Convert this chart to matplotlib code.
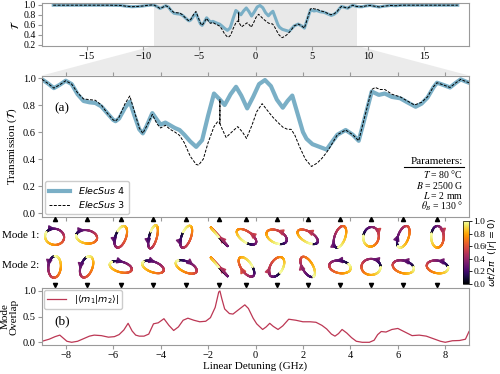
import numpy as np
import matplotlib.pyplot as plt
from matplotlib.collections import LineCollection
from matplotlib.patches import Polygon, FancyArrowPatch
from matplotlib.font_manager import FontProperties
from matplotlib.cm import ScalarMappable

plt.rcParams['font.family'] = ['Liberation Serif', 'DejaVu Serif']
plt.rcParams['mathtext.fontset'] = 'stix'
plt.rcParams['font.size'] = 8

# ---- transmission data (GHz, T) ----
outer_left_x = [-18, -17, -16, -15, -14, -13, -12, -11.5, -11, -10.5, -10, -9.5, -9.2]
outer_left_t = [0.99, 0.99, 0.99, 0.99, 0.99, 0.99, 0.985, 0.97, 0.96, 0.965, 0.975, 0.99, 0.995]
outer_right_x = [9.25, 9.5, 9.8, 10.2, 10.6, 11.0, 11.4, 12, 12.5, 13, 14, 15, 16, 17, 18]
outer_right_t = [0.96, 0.96, 0.975, 0.985, 0.97, 0.955, 0.97, 0.985, 0.98, 0.99, 0.99, 0.99, 0.99, 0.99, 0.99]

es4_x = [-9.0, -8.75, -8.5, -8.25, -8.0, -7.75, -7.5, -7.25, -7.0, -6.75, -6.5, -6.25, -6.0, -5.9,
         -5.75, -5.5, -5.3, -5.1, -4.9, -4.75, -4.6, -4.35, -4.15, -4.0, -3.8, -3.6, -3.4, -3.2,
         -3.0, -2.75, -2.5, -2.25, -2.0, -1.75, -1.5, -1.3, -1.05, -0.82, -0.6, -0.35, -0.1, 0.15,
         0.4, 0.65, 0.9, 1.15, 1.35, 1.55, 1.75, 2.0, 2.15, 2.4, 2.7, 3.0, 3.2, 3.45, 3.8, 4.1,
         4.35, 4.6, 4.9, 5.2, 5.45, 5.75, 6.1, 6.4, 6.75, 7.0, 7.25, 7.5, 7.65, 7.9, 8.2, 8.45,
         8.65, 8.85, 9.0]
es4_t = [0.99, 0.96, 0.925, 0.95, 0.98, 0.955, 0.88, 0.83, 0.82, 0.815, 0.79, 0.74, 0.69, 0.68,
         0.70, 0.78, 0.825, 0.72, 0.62, 0.59, 0.64, 0.74, 0.69, 0.655, 0.67, 0.65, 0.63, 0.615,
         0.58, 0.53, 0.49, 0.54, 0.72, 0.885, 0.84, 0.80, 0.88, 0.935, 0.87, 0.775, 0.86, 0.955,
         0.985, 0.94, 0.84, 0.78, 0.83, 0.87, 0.75, 0.60, 0.55, 0.51, 0.49, 0.47, 0.52, 0.58, 0.615, 0.58,
         0.535, 0.70, 0.90, 0.875, 0.885, 0.86, 0.85, 0.82, 0.787, 0.81, 0.855, 0.93, 0.965, 0.95, 0.93, 0.965,
         0.99, 0.975, 0.965]

es3_x = [-9.0, -8.75, -8.5, -8.25, -8.0, -7.75, -7.5, -7.25, -7.0, -6.75, -6.5, -6.25, -6.0, -5.9,
         -5.75, -5.5, -5.3, -5.1, -4.9, -4.75, -4.6, -4.35, -4.15, -4.0, -3.8, -3.6, -3.4, -3.2,
         -3.0, -2.75, -2.5, -2.4, -2.2, -2.0, -1.75, -1.6, -1.505, -1.5, -1.495, -1.4, -1.24, -1.0,
         -0.75, -0.55, -0.38, -0.15, 0.05, 0.28, 0.5, 0.73, 0.95, 1.16, 1.35, 1.5, 1.65, 1.86, 2.1,
         2.36, 2.6, 2.8, 3.0, 3.15, 3.45, 3.8, 4.1, 4.35, 4.6, 4.9, 5.05, 5.25, 5.45, 5.75, 6.1, 6.4,
         6.7, 7.0, 7.25, 7.5, 7.65, 7.9, 8.2, 8.45, 8.65, 8.85, 9.0]
es3_t = [0.99, 0.96, 0.925, 0.95, 0.98, 0.955, 0.89, 0.845, 0.84, 0.835, 0.80, 0.74, 0.69, 0.68,
         0.71, 0.81, 0.867, 0.75, 0.63, 0.59, 0.64, 0.73, 0.66, 0.63, 0.65, 0.62, 0.60, 0.575,
         0.52, 0.42, 0.36, 0.355, 0.40, 0.52, 0.64, 0.676, 0.665, 0.84, 0.66, 0.62, 0.56, 0.60,
         0.64, 0.60, 0.553, 0.65, 0.75, 0.81, 0.76, 0.71, 0.67, 0.635, 0.62, 0.62, 0.58, 0.49, 0.40,
         0.345, 0.37, 0.405, 0.45, 0.49, 0.58, 0.615, 0.58, 0.535, 0.71, 0.915, 0.93, 0.915, 0.915, 0.88, 0.86, 0.83,
         0.80, 0.82, 0.86, 0.935, 0.965, 0.95, 0.93, 0.965, 0.99, 0.975, 0.965]

# ---- mode overlap ----
ov_x = [-9.0, -8.7, -8.45, -8.25, -8.1, -7.95, -7.75, -7.5, -7.25, -7.0, -6.8, -6.5, -6.2, -5.95,
        -5.75, -5.55, -5.37, -5.2, -5.05, -4.9, -4.7, -4.5, -4.3, -4.1, -3.86, -3.65, -3.45, -3.25,
        -3.05, -2.85, -2.6, -2.35, -2.1, -1.9, -1.7, -1.55, -1.5, -1.42, -1.3, -1.1, -0.95, -0.7,
        -0.45, -0.3, -0.1, 0.05, 0.3, 0.45, 0.6, 0.75, 0.95, 1.15, 1.4, 1.7, 2.0, 2.3, 2.55, 2.8,
        3.0, 3.2, 3.35, 3.5, 3.65, 3.85, 4.05, 4.25, 4.5, 4.8, 5.0, 5.15, 5.3, 5.5, 5.75, 6.0, 6.3,
        6.6, 6.9, 7.2, 7.5, 7.8, 8.0, 8.3, 8.6, 8.85, 9.0]
ov_v = [0.02, 0.06, 0.11, 0.14, 0.08, 0.02, 0.0, 0.02, 0.07, 0.12, 0.14, 0.13, 0.10, 0.11,
        0.15, 0.24, 0.37, 0.22, 0.14, 0.12, 0.12, 0.16, 0.36, 0.38, 0.46, 0.33, 0.23, 0.30,
        0.43, 0.47, 0.43, 0.40, 0.41, 0.48, 0.68, 0.98, 1.0, 0.85, 0.65, 0.56, 0.55, 0.64,
        0.73, 0.66, 0.47, 0.36, 0.25, 0.30, 0.37, 0.31, 0.25, 0.32, 0.45, 0.43, 0.40, 0.40, 0.39, 0.33,
        0.26, 0.16, 0.12, 0.17, 0.25, 0.18, 0.09, 0.02, 0.0, 0.0, 0.04, 0.15, 0.21, 0.20, 0.25, 0.27, 0.20,
        0.13, 0.14, 0.12, 0.07, 0.02, 0.0, 0.03, 0.035, 0.06, 0.21]

# ---- polarisation modes: tilt (deg), ellipticity (deg), handedness, start angle (deg), arrow t ----
mode_x = [-8.47, -7.12, -5.68, -4.32, -2.92, -1.53, -0.38, 0.89, 2.2, 3.56, 4.87, 6.23, 7.67]
m1_tilt = [170, 170, 70, 75, 70, 132, 145, 155, 150, 70, 80, 70, 90]
m1_ell = [40, 32, 25, 18, 22, 2, 25, 30, 25, 25, 38, 25, 30]
m1_hand = [-1, -1, 1, 1, 1, 1, 1, 1, 1, -1, -1, -1, -1]
m1_start = [150, 170, 120, 115, 125, 222, 270, 290, 300, 260, 170, 240, 150]
m1_arrow = [0.17, 0.2, 0.2, 0.2, 0.22, 0.5, 0.45, 0.45, 0.45, 0.22, 0.45, 0.2, 0.42]
m2_tilt = [85, 70, 165, 160, 155, 132, 125, 60, 120, 170, 0, 165, 170]
m2_ell = [30, 28, 25, 25, 25, 2, 25, 30, 25, 30, 40, 30, 30]
m2_hand = [1, 1, -1, -1, -1, 1, -1, -1, -1, 1, 1, 1, 1]
m2_start = [90, 90, 150, 150, 140, 222, 0, 300, 300, 20, 0, 0, 0]
m2_arrow = [0.22, 0.22, 0.18, 0.2, 0.25, 0.5, 0.5, 0.4, 0.35, 0.2, 0.22, 0.22, 0.22]

blue = '#7aafc6'
grey = '#9a9a9a'

W, H = 500, 374
fig = plt.figure(figsize=(W / 100, H / 100), dpi=100)

def style(ax):
    for sp in ax.spines.values():
        sp.set_color(grey)
        sp.set_linewidth(0.8)
    ax.tick_params(direction='out', length=3, width=0.8, color=grey, labelsize=7.5, pad=1.5)

# top overview
ax_top = fig.add_axes([0.084, 0.8778, 0.854, 0.1134])
ax_top.axvspan(-9, 9, color='#e9e9e9', lw=0, zorder=0)
ax_top.plot(outer_left_x + es4_x + outer_right_x, outer_left_t + es4_t + outer_right_t,
            color=blue, lw=2.2, zorder=2)
ax_top.plot(outer_left_x + es3_x + outer_right_x, outer_left_t + es3_t + outer_right_t,
            color='k', lw=0.7, ls=(0, (3, 1.5)), zorder=3)
ax_top.set_xlim(-19, 19)
ax_top.set_ylim(0.186, 1.028)
ax_top.set_yticks([0.2, 0.4, 0.6, 0.8, 1.0])
ax_top.set_xticks([-15, -10, -5, 0, 5, 10, 15])
ax_top.set_ylabel(r'$\mathcal{T}$', labelpad=2)
style(ax_top)
ax_top.tick_params(axis='y', labelsize=7)

# panel (a)
ax_a = fig.add_axes([0.084, 0.4206, 0.854, 0.3775])
ax_a.plot(es4_x, es4_t, color=blue, lw=3, label=r'$\it{ElecSus}$ 4', zorder=2)
ax_a.plot(es3_x, es3_t, color='k', lw=0.7, ls=(0, (3, 1.5)), label=r'$\it{ElecSus}$ 3', zorder=3)
ax_a.set_xlim(-9, 9)
ax_a.set_ylim(-0.027, 1.0185)
ax_a.set_xticks(np.arange(-8, 9, 2))
ax_a.set_yticks([0.0, 0.2, 0.4, 0.6, 0.8, 1.0])
ax_a.set_ylabel(r'Transmission ($\mathcal{T}$)', labelpad=3)
style(ax_a)
ax_a.tick_params(axis='x', top=True, bottom=True, labelbottom=False)
ax_a.text(0.03, 0.765, '(a)', transform=ax_a.transAxes, fontsize=9.5, va='center')
sans = FontProperties(family='DejaVu Sans', size=6.8, math_fontfamily='dejavusans')
ax_a.legend(loc='lower left', prop=sans, borderaxespad=0.3, handlelength=2.3,
            edgecolor='#cccccc', framealpha=1, borderpad=0.4, labelspacing=0.3)

params = [r'$T$ = 80 °C', r'$B$ = 2500 G', r'$L$ = 2 mm', r'$\theta_B$ = 130 °']
ax_a.text(0.986, 0.389, 'Parameters:', transform=ax_a.transAxes, ha='right', va='center', fontsize=8)
ax_a.plot([0.848, 0.988], [0.352, 0.352], transform=ax_a.transAxes, color='k', lw=0.8, clip_on=False)
for i, p in enumerate(params):
    ax_a.text(0.986, 0.300 - 0.076 * i, p, transform=ax_a.transAxes, ha='right', va='center', fontsize=7)

# zoom polygon
tr = ax_top.transData + fig.transFigure.inverted()
p1 = tr.transform((-9, 0.186))
p2 = tr.transform((9, 0.186))
pos = ax_a.get_position()
poly = Polygon([p1, p2, (pos.x1, pos.y1), (pos.x0, pos.y1)], closed=True,
               transform=fig.transFigure, facecolor='#ebebeb', edgecolor='none', zorder=-1)
fig.patches.append(poly)

# modes panel
ax_m = fig.add_axes([0.084, 0.2299, 0.854, 0.1907])
ax_m.set_xlim(-9, 9)
ax_m.set_ylim(0, 1)
ax_m.axis('off')
sx = 18 / (0.854 * W)
sy = 1 / (0.1907 * H)
cmap = plt.get_cmap('inferno')

def draw_mode(xc, yc, tilt, ell, hand, start, t_arr, R=12.5):
    psi, chi = np.radians(tilt), np.radians(ell)
    a, b = R * np.cos(chi), R * np.sin(chi)
    beta = np.radians(start) - psi
    s0 = np.arctan2(a * np.sin(beta), b * np.cos(beta))
    t = np.linspace(0, 1, 240)
    s = s0 + hand * 2 * np.pi * t
    u, v = a * np.cos(s), b * np.sin(s)
    x = xc + (u * np.cos(psi) - v * np.sin(psi)) * sx
    y = yc + (u * np.sin(psi) + v * np.cos(psi)) * sy
    gamma = 1.0 if ell < 5 else 0.75
    pts = np.column_stack([x, y]).reshape(-1, 1, 2)
    segs = np.concatenate([pts[:-1], pts[1:]], axis=1)
    lc = LineCollection(segs, cmap=cmap, norm=plt.Normalize(0, 1), linewidths=1.5, capstyle='round')
    lc.set_array(t[:-1] ** gamma)
    ax_m.add_collection(lc)
    i = int(t_arr * 239)
    arr = FancyArrowPatch((x[i - 4], y[i - 4]), (x[i + 2], y[i + 2]), arrowstyle='-|>',
                          mutation_scale=9, color=cmap(t_arr ** gamma), lw=1.1, shrinkA=0, shrinkB=0)
    ax_m.add_patch(arr)

for k, xc in enumerate(mode_x):
    draw_mode(xc, 0.718, m1_tilt[k], m1_ell[k], m1_hand[k], m1_start[k], m1_arrow[k])
    draw_mode(xc, 0.296, m2_tilt[k], m2_ell[k], m2_hand[k], m2_start[k], m2_arrow[k])
ax_m.plot(mode_x, [0.972] * len(mode_x), '^', color='k', ms=3, clip_on=False)
ax_m.plot(mode_x, [0.042] * len(mode_x), 'v', color='k', ms=3, clip_on=False)
fig.text(0.078, 1 - 236 / H, 'Mode 1:', ha='right', va='center', fontsize=8)
fig.text(0.078, 1 - 266 / H, 'Mode 2:', ha='right', va='center', fontsize=8)

cax = fig.add_axes([0.926, 0.2406, 0.012, 0.1685])
cb = fig.colorbar(ScalarMappable(norm=plt.Normalize(0, 1), cmap=cmap), cax=cax,
                  ticks=[0, 0.2, 0.4, 0.6, 0.8, 1.0])
cb.ax.tick_params(labelsize=6.8, length=2, width=0.6, pad=1)
cb.outline.set_linewidth(0.5)
cb.set_label(r'$\omega t/2\pi\ \ (|\vec{r}|=0)$', labelpad=0,
             fontproperties=FontProperties(family='DejaVu Sans', size=6.8, math_fontfamily='dejavusans'))

# panel (b)
ax_b = fig.add_axes([0.084, 0.0775, 0.854, 0.1524])
ax_b.plot(ov_x, ov_v, color='#bc3754', lw=0.9, label=r'$|\langle m_1|m_2\rangle|$')
ax_b.set_xlim(-9, 9)
ax_b.set_ylim(-0.053, 1.058)
ax_b.set_xticks(np.arange(-8, 9, 2))
ax_b.set_yticks([0.0, 0.5, 1.0])
ax_b.set_xlabel('Linear Detuning (GHz)', labelpad=1)
ax_b.set_ylabel('Mode\nOverlap', labelpad=3, linespacing=0.95)
style(ax_b)
ax_b.text(0.03, 0.42, '(b)', transform=ax_b.transAxes, fontsize=9.5, va='center')
ax_b.legend(loc='upper left', prop=sans, borderaxespad=0.25, handlelength=2.0,
            edgecolor='#cccccc', framealpha=1, borderpad=0.3)

fig.savefig('out.png', dpi=100)
